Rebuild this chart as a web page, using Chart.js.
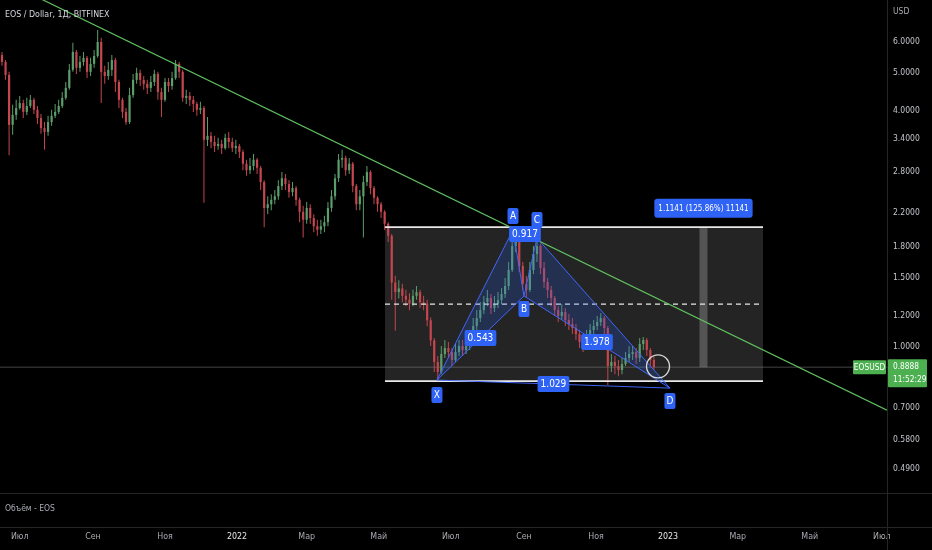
<!DOCTYPE html>
<html><head><meta charset="utf-8">
<script src="https://cdn.jsdelivr.net/npm/chart.js@4.4.1/dist/chart.umd.min.js"></script>
<style>html,body{margin:0;padding:0;background:#000;overflow:hidden}#wrap{width:932px;height:550px;position:relative}</style>
</head><body><div id="wrap"><canvas id="c" width="932" height="550"></canvas></div>
<script>
// ---- data (days counted from 2022-01-01, prices in USD) ----
const firstDay = -199;
const dayStep = 3;
const firstOpen = 5.54;
const closes = [
5.32,4.93,3.68,3.90,4.06,4.18,3.97,4.11,4.26,4.02,
3.83,3.61,3.53,3.74,3.88,3.97,4.11,4.31,4.57,5.08,
5.64,5.14,5.32,5.45,5.02,5.26,5.51,5.98,5.02,4.90,
5.08,5.38,4.73,4.26,3.97,3.74,4.38,4.79,4.99,4.79,
4.68,4.57,4.73,4.96,4.46,4.26,4.73,4.62,4.84,5.26,
5.02,4.31,4.36,4.26,4.16,4.02,4.06,3.37,3.45,3.33,
3.25,3.29,3.21,3.41,3.33,3.21,3.25,3.14,2.93,2.82,
2.89,3.00,2.86,2.63,2.26,2.31,2.37,2.42,2.57,2.69,
2.60,2.48,2.54,2.37,2.21,2.11,2.26,2.13,2.03,1.99,
2.03,2.08,2.26,2.42,2.69,3.00,3.03,2.82,2.93,2.57,
2.31,2.42,2.63,2.79,2.54,2.40,2.31,2.21,2.06,1.92,
1.46,1.38,1.41,1.35,1.32,1.29,1.35,1.38,1.30,1.29,
1.17,1.04,0.916,0.864,0.960,0.994,0.971,0.927,0.971,1.006,
0.983,1.006,1.067,1.131,1.185,1.242,1.302,1.333,1.257,1.286,
1.317,1.365,1.430,1.571,1.808,1.873,1.608,1.447,1.397,1.571,
1.725,1.808,1.590,1.464,1.397,1.333,1.242,1.199,1.228,1.172,
1.145,1.118,1.079,1.030,1.006,1.067,1.105,1.131,1.158,1.185,
1.118,0.895,0.916,0.895,0.874,0.905,0.938,0.960,0.971,0.938,
1.018,1.042,0.983,0.927,0.8888];
const highs = [
5.64,5.38,5.02,4.14,4.26,4.36,4.26,4.31,4.38,4.31,
4.11,3.92,3.74,3.88,4.02,4.16,4.26,4.46,4.73,5.26,
5.95,5.71,5.51,5.64,5.51,5.45,5.71,6.42,6.13,5.20,
5.32,5.54,5.45,4.79,4.31,4.06,4.57,4.96,5.14,5.08,
4.90,4.79,4.90,5.08,5.02,4.57,4.84,4.84,5.02,5.38,
5.32,5.08,4.52,4.46,4.36,4.21,4.21,4.11,3.85,3.53,
3.45,3.41,3.37,3.49,3.53,3.41,3.37,3.29,3.18,3.00,
3.03,3.10,3.03,2.89,2.66,2.42,2.45,2.51,2.66,2.79,
2.76,2.66,2.63,2.57,2.40,2.29,2.34,2.31,2.18,2.11,
2.11,2.16,2.34,2.51,2.76,3.10,3.18,3.07,3.03,2.96,
2.60,2.51,2.73,2.89,2.82,2.57,2.42,2.34,2.23,2.08,
1.94,1.52,1.48,1.45,1.40,1.37,1.40,1.43,1.40,1.35,
1.32,1.19,1.054,0.949,1.006,1.042,1.030,0.994,1.018,1.042,
1.042,1.054,1.105,1.185,1.242,1.302,1.349,1.397,1.365,1.349,
1.381,1.413,1.499,1.647,1.895,1.986,1.895,1.647,1.517,1.647,
1.808,1.895,1.830,1.647,1.499,1.430,1.349,1.271,1.286,1.257,
1.213,1.185,1.145,1.105,1.067,1.105,1.145,1.172,1.199,1.220,
1.199,1.131,0.960,0.949,0.927,0.938,0.971,1.006,1.006,0.994,
1.054,1.061,1.054,0.994,0.949];
const lows = [
5.20,4.79,3.08,3.47,3.79,4.02,3.83,3.90,4.06,3.92,
3.70,3.49,3.18,3.45,3.66,3.83,3.92,4.06,4.26,4.52,
5.02,4.96,5.02,5.20,4.84,4.90,5.14,5.45,4.18,4.68,
4.79,4.90,4.46,4.06,3.83,3.68,3.70,4.31,4.68,4.62,
4.52,4.41,4.46,4.62,4.26,3.85,4.21,4.46,4.52,4.79,
4.84,4.21,4.16,4.11,3.97,3.88,3.92,2.33,3.25,3.21,
3.14,3.18,3.10,3.18,3.21,3.14,3.10,3.03,2.82,2.73,
2.76,2.82,2.76,2.51,2.02,2.18,2.23,2.31,2.37,2.51,
2.51,2.40,2.42,2.29,2.08,1.90,2.06,2.06,1.96,1.92,
1.94,1.96,2.03,2.21,2.37,2.63,2.86,2.73,2.76,2.48,
2.23,2.23,1.90,2.57,2.45,2.31,2.21,2.13,1.99,1.85,
1.32,1.10,1.33,1.30,1.27,1.24,1.27,1.32,1.26,1.24,
1.13,1.006,0.864,0.824,0.853,0.938,0.938,0.895,0.916,0.949,
0.949,0.960,0.983,1.042,1.105,1.158,1.213,1.271,1.213,1.228,
1.257,1.286,1.333,1.397,1.553,1.745,1.553,1.397,1.341,1.381,
1.535,1.647,1.535,1.413,1.333,1.271,1.199,1.158,1.172,1.131,
1.105,1.079,1.042,0.994,0.971,0.983,1.042,1.079,1.105,1.131,
1.079,0.800,0.864,0.853,0.843,0.853,0.895,0.916,0.927,0.905,
0.916,0.983,0.949,0.895,0.874];

const priceTicks = [6.0, 5.0, 4.0, 3.4, 2.8, 2.2, 1.8, 1.5, 1.2, 1.0, 0.7, 0.58, 0.49];
const monthDays = [-184, -122, -61, 0, 59, 120, 181, 243, 304, 365, 424, 485, 546];
const monthLabels = ['Июл','Сен','Ноя','2022','Мар','Май','Июл','Сен','Ноя','2023','Мар','Май','Июл'];
const yearLabels = ['2022','2023'];

const trendDays = [-200.7, 550.4];
const trendPrices = [8.65, 0.691];

const patternNames = ['X','A','B','C','D'];
const patternDays = [169.3, 233.7, 243.0, 254.0, 366.6];
const patternPrices = [0.824, 1.986, 1.349, 1.895, 0.786];
const ratioNames = ['0.543','0.917','1.978','1.029'];
const ratioPairs = [[0,2],[1,3],[2,4],[0,4]];

const rectStartDay = 125.3, rectEndDay = 445.4;
const rectTop = 2.02, rectBottom = 0.819, rectMid = 1.286;
const bandDay = 395.0;
const measureText = '1.1141 (125.86%) 11141';
const circleDay = 356.5, circlePrice = 0.893;

const lastPrice = 0.8888;
const lastPriceText = '0.8888';
const countdownText = '11:52:29';
const symbolText = 'EOSUSD';
const titleText = 'EOS / Dollar, 1Д, BITFINEX';
const volumeText = 'Объём - EOS';
const currencyText = 'USD';

const xMin = -200.7, xMax = 550.4;
const yMin = 0.425, yMax = 7.65;

// ---- derived ----
const FONT = '"Liberation Sans Narrow", "DejaVu Sans Condensed", Roboto, sans-serif';
const opens = closes.map((c, i) => i === 0 ? firstOpen : closes[i - 1]);
const days = closes.map((_, i) => firstDay + i * dayStep);
const UP = '#5b9d6b', DOWN = '#c4464f';
const candleColors = closes.map((c, i) => c >= opens[i] ? UP : DOWN);
const pt = i => ({x: patternDays[i], y: patternPrices[i]});
const PBLUE = 'rgba(66,104,255,0.95)';
const LBLUE = '#2f63f5';

function box(ctx, x, y, w, h, r, color) {
  ctx.fillStyle = color;
  ctx.beginPath();
  if (ctx.roundRect) ctx.roundRect(x, y, w, h, r); else ctx.rect(x, y, w, h);
  ctx.fill();
}

const overlay = {
  id: 'overlay',
  beforeDraw(chart) {
    const ctx = chart.ctx;
    ctx.save(); ctx.fillStyle = '#000'; ctx.fillRect(0, 0, chart.width, chart.height); ctx.restore();
  },
  afterDatasetsDraw(chart) {
    const ctx = chart.ctx, xs = chart.scales.x, ys = chart.scales.y;
    ctx.save();
    ctx.textAlign = 'center'; ctx.textBaseline = 'middle';
    const offs = [15, -14, 13, -18, 13];
    patternNames.forEach((n, i) => {
      const px = xs.getPixelForValue(patternDays[i]);
      const py = ys.getPixelForValue(patternPrices[i]) + offs[i];
      box(ctx, px - 5.5, py - 8, 11, 16, 2, LBLUE);
      ctx.fillStyle = '#fff'; ctx.font = '10px ' + FONT;
      ctx.fillText(n, px, py + 0.5);
    });
    ratioNames.forEach((t, i) => {
      const [a, b] = ratioPairs[i];
      const px = (xs.getPixelForValue(patternDays[a]) + xs.getPixelForValue(patternDays[b])) / 2;
      const py = (ys.getPixelForValue(patternPrices[a]) + ys.getPixelForValue(patternPrices[b])) / 2;
      ctx.font = '10px ' + FONT;
      const w = ctx.measureText(t).width + 6;
      box(ctx, px - w / 2, py - 8, w, 16, 2, LBLUE);
      ctx.fillStyle = '#fff';
      ctx.fillText(t, px, py + 0.5);
    });
    {
      const px = xs.getPixelForValue(bandDay);
      const py = ys.getPixelForValue(rectTop) - 19;
      ctx.font = '8px ' + FONT;
      const w = ctx.measureText(measureText).width + 8;
      box(ctx, px - w / 2, py - 9.5, w, 19, 3, LBLUE);
      ctx.fillStyle = '#fff';
      ctx.fillText(measureText, px, py + 0.5);
    }
    ctx.restore();
  },
  afterDraw(chart) {
    const ctx = chart.ctx, ys = chart.scales.y, area = chart.chartArea;
    ctx.save();
    ctx.strokeStyle = '#252525'; ctx.lineWidth = 1;
    ctx.beginPath();
    ctx.moveTo(0, area.bottom + 0.5); ctx.lineTo(chart.width, area.bottom + 0.5);
    ctx.moveTo(0, area.bottom + 34.5); ctx.lineTo(chart.width, area.bottom + 34.5);
    ctx.moveTo(area.right + 0.5, 0); ctx.lineTo(area.right + 0.5, chart.height);
    ctx.stroke();
    ctx.textBaseline = 'middle'; ctx.textAlign = 'left';
    ctx.fillStyle = '#d6d8de'; ctx.font = '8.8px ' + FONT;
    ctx.fillText(titleText, 5, 15);
    ctx.fillStyle = '#a9abb2'; ctx.font = '8.5px ' + FONT;
    ctx.fillText(volumeText, 5, area.bottom + 16);
    ctx.fillText(currencyText, area.right + 6, 12);
    const py = ys.getPixelForValue(lastPrice);
    box(ctx, 853, py - 7, 33, 14, 1, '#4caf50');
    box(ctx, area.right + 1, py - 8, 39, 28, 1, '#4caf50');
    ctx.fillStyle = '#fff'; ctx.textAlign = 'center';
    ctx.font = '8.3px ' + FONT;
    ctx.fillText(symbolText, 869.5, py + 0.5);
    ctx.textAlign = 'left';
    ctx.fillText(lastPriceText, area.right + 6, py);
    ctx.fillText(countdownText, area.right + 6, py + 13);
    ctx.restore();
  }
};

const datasets = [
  {type: 'line', label: 'circle', data: [{x: circleDay, y: circlePrice}], showLine: false,
   pointRadius: 11.5, pointHoverRadius: 11.5, pointBorderColor: 'rgba(235,235,235,0.9)',
   pointBackgroundColor: 'rgba(0,0,0,0)', pointBorderWidth: 1.3, order: 0},
  {type: 'line', label: 'trend', data: trendDays.map((d, i) => ({x: d, y: trendPrices[i]})),
   borderColor: '#5fbf5f', borderWidth: 1.2, pointRadius: 0, order: 1},
  {type: 'line', label: 'XAB', data: [pt(0), pt(1), pt(2), pt(0)], fill: 'shape',
   backgroundColor: 'rgba(41,98,255,0.2)', borderColor: PBLUE, borderWidth: 1, pointRadius: 0, order: 2},
  {type: 'line', label: 'BCD', data: [pt(2), pt(3), pt(4), pt(2)], fill: 'shape',
   backgroundColor: 'rgba(41,98,255,0.2)', borderColor: PBLUE, borderWidth: 1, pointRadius: 0, order: 2},
  {type: 'line', label: 'AC', data: [pt(1), pt(3)], borderColor: PBLUE, borderWidth: 1, borderDash: [3, 3], pointRadius: 0, order: 2},
  {type: 'line', label: 'XD', data: [pt(0), pt(4)], borderColor: PBLUE, borderWidth: 1, pointRadius: 0, order: 2},
  {type: 'line', label: 'rectTop', data: [{x: rectStartDay, y: rectTop}, {x: rectEndDay, y: rectTop}],
   borderColor: '#e8e8e8', borderWidth: 1.6, pointRadius: 0, order: 3},
  {type: 'line', label: 'rectBottom', data: [{x: rectStartDay, y: rectBottom}, {x: rectEndDay, y: rectBottom}],
   borderColor: '#e8e8e8', borderWidth: 1.6, pointRadius: 0, order: 3},
  {type: 'line', label: 'rectMid', data: [{x: rectStartDay, y: rectMid}, {x: rectEndDay, y: rectMid}],
   borderColor: '#e8e8e8', borderWidth: 1.2, borderDash: [5, 4], pointRadius: 0, order: 3},
  {type: 'bar', label: 'body', data: days.map((d, i) => ({x: d, y: [opens[i], closes[i]]})),
   backgroundColor: candleColors, barThickness: 2.2, minBarLength: 1, grouped: false, inflateAmount: 0, order: 4},
  {type: 'bar', label: 'wick', data: days.map((d, i) => ({x: d, y: [lows[i], highs[i]]})),
   backgroundColor: candleColors, barThickness: 1, grouped: false, inflateAmount: 0, order: 5},
  {type: 'line', label: 'priceLine', data: [{x: xMin, y: lastPrice}, {x: xMax, y: lastPrice}],
   borderColor: 'rgba(150,150,150,0.45)', borderWidth: 1, pointRadius: 0, order: 6},
  {type: 'bar', label: 'band', data: [{x: bandDay, y: [lastPrice, rectTop]}],
   backgroundColor: 'rgba(255,255,255,0.22)', barThickness: 8, grouped: false, inflateAmount: 0, order: 7},
  {type: 'line', label: 'rectFill', data: [{x: rectStartDay, y: rectBottom}, {x: rectEndDay, y: rectBottom},
     {x: rectEndDay, y: rectTop}, {x: rectStartDay, y: rectTop}, {x: rectStartDay, y: rectBottom}],
   fill: 'shape', backgroundColor: 'rgba(255,255,255,0.14)', borderWidth: 0, borderColor: 'rgba(0,0,0,0)', pointRadius: 0, order: 8}
];

new Chart(document.getElementById('c'), {
  type: 'bar',
  data: {datasets},
  plugins: [overlay],
  options: {
    responsive: false, animation: false, events: [],
    layout: {padding: 0, autoPadding: false},
    plugins: {legend: {display: false}, tooltip: {enabled: false}, title: {display: false}},
    scales: {
      x: {type: 'linear', min: xMin, max: xMax, bounds: 'data', offset: false,
          grid: {display: false, drawTicks: false}, border: {display: false},
          afterBuildTicks: s => { s.ticks = monthDays.map(v => ({value: v})); },
          afterFit: s => { s.height = 57; s.paddingLeft = 0; s.paddingRight = 0; s.paddingTop = 0; s.paddingBottom = 0; },
          ticks: {autoSkip: false, maxRotation: 0, padding: 38,
                  font: {family: FONT, size: 8.8},
                  color: c => yearLabels.includes(monthLabels[c.index]) ? '#e6e6e6' : '#a9abb2',
                  callback: (v, i) => monthLabels[i]}},
      y: {type: 'logarithmic', position: 'right', min: yMin, max: yMax, bounds: 'data',
          grid: {display: false, drawTicks: false}, border: {display: false},
          afterBuildTicks: s => { s.ticks = priceTicks.map(v => ({value: v})); },
          afterFit: s => { s.width = 45; s.paddingTop = 0; s.paddingBottom = 0; s.paddingLeft = 0; s.paddingRight = 0; },
          ticks: {autoSkip: false, padding: 6, color: '#c3c5cb',
                  font: {family: FONT, size: 8.5},
                  callback: v => Number(v).toFixed(4)}}
    }
  }
});
</script></body></html>
